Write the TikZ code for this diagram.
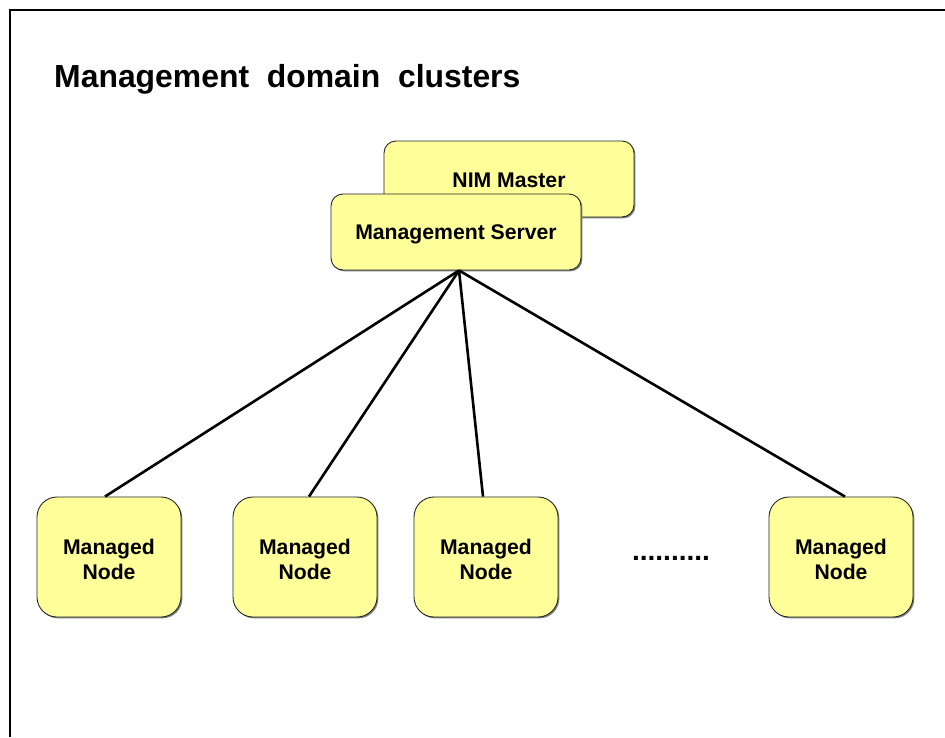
\documentclass[tikz,border=0pt]{standalone}
\usepackage{fontspec}
\setmainfont{Liberation Sans}
\usetikzlibrary{shadows,calc}
\definecolor{boxyellow}{HTML}{FFFF99}
\newsavebox{\lowbox}
\newcommand{\lowered}[2]{\sbox{\lowbox}{#2}\raisebox{-#1}[\ht\lowbox][\dp\lowbox]{\usebox{\lowbox}}}
\newcommand{\boxtext}[1]{\lowered{5pt}{\begin{tabular}{@{}c@{}}#1\end{tabular}}}
\tikzset{
  ybox/.style={draw=black!85, line width=0.9pt, fill=boxyellow, font=\bfseries\fontsize{21.2}{25}\selectfont, align=center, inner sep=0pt,
    drop shadow={shadow xshift=1.4pt, shadow yshift=-1.4pt, fill=black!50, opacity=1}},
  srvbox/.style={ybox, rounded corners=12pt, minimum width=250pt, minimum height=76pt},
  nodebox/.style={ybox, rounded corners=20pt, minimum width=144pt, minimum height=120pt},
  link/.style={line width=2.6pt, black}
}
\begin{document}
\begin{tikzpicture}[x=1pt,y=-1pt]
\useasboundingbox (0,0) rectangle (945,737);
\draw[line width=1.2pt] (10,737) -- (10,10) -- (945,10);
\node[anchor=base west, font=\bfseries\fontsize{31.9}{36}\selectfont, inner sep=0pt] (title) at (54,87) {Management\ \ domain\ \ clusters};
\node[srvbox] (nim) at (509,179) {\lowered{1pt}{NIM Master}};
\node[srvbox] (ms) at (456,232) {\lowered{2.5pt}{Management Server}};
\node[nodebox] (n1) at (109,557) {\boxtext{Managed\\Node}};
\node[nodebox] (n2) at (305,557) {\boxtext{Managed\\Node}};
\node[nodebox] (n3) at (486,557) {\boxtext{Managed\\Node}};
\node[nodebox] (n4) at (841,557) {\boxtext{Managed\\Node}};
\node[font=\bfseries\fontsize{28}{30}\selectfont, inner sep=0pt, anchor=base] (dots) at (671,560) {..........};
\coordinate (apex) at ($(ms.south)+(3,0)$);
\draw[link] (apex) -- ($(n1.north)+(-4,0)$);
\draw[link] (apex) -- ($(n2.north)+(4,0)$);
\draw[link] (apex) -- ($(n3.north)+(-3,0)$);
\draw[link] (apex) -- ($(n4.north)+(4,0)$);
\end{tikzpicture}
\end{document}
